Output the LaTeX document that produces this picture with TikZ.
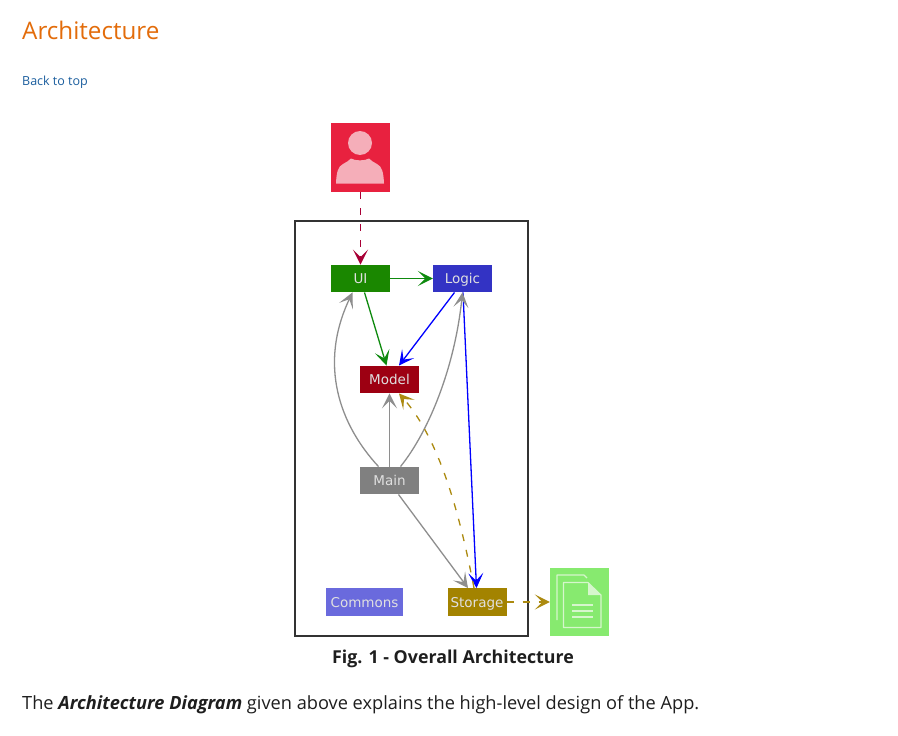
\documentclass[tikz,border=0pt]{standalone}
\usepackage{fontspec}
\setmainfont{Open Sans}
\newfontfamily\diagfont{DejaVu Sans}
\usetikzlibrary{arrows.meta,calc}
\definecolor{titleorange}{HTML}{E36C0A}
\definecolor{linkblue}{HTML}{1B5E9E}
\definecolor{bodytext}{HTML}{1E1E1E}
\definecolor{usered}{HTML}{E8213F}
\definecolor{userpale}{HTML}{F5AEB9}
\definecolor{userarrow}{HTML}{A80036}
\definecolor{uigreen}{HTML}{1A8700}
\definecolor{arrowgreen}{HTML}{0E8A0E}
\definecolor{logicblue}{HTML}{3333C4}
\definecolor{modelred}{HTML}{9D0012}
\definecolor{maingray}{HTML}{808080}
\definecolor{linegray}{HTML}{8E8E8E}
\definecolor{commonsblue}{HTML}{6A6ADD}
\definecolor{storagegold}{HTML}{A38300}
\definecolor{linegold}{HTML}{AC8A10}
\definecolor{docgreen}{HTML}{87EA6F}
\definecolor{docpale}{HTML}{D6F6CC}
\tikzset{
  x=1pt,y=-1pt,
  comp/.style={minimum width=59pt,minimum height=27.5pt,inner sep=0pt,text=white!88!black,font=\diagfont\fontsize{13.5}{15}\selectfont,text height=10pt,text depth=0pt,anchor=center},
  conn/.style={line width=1.3pt,-{Stealth[length=15pt,width=15pt,inset=7.5pt]}},
  dash style/.style={dash pattern=on 7pt off 9pt},
  page text/.style={anchor=base west,inner sep=0pt},
  docline/.style={draw=docpale,line width=1.1pt}
}
\begin{document}
\begin{tikzpicture}
\useasboundingbox (0,0) rectangle (898,736);
\fill[white] (0,0) rectangle (898,736);
% page text
\node[page text,text=titleorange,font=\fontsize{24.2}{28}\selectfont] (title) at (22,39) {Architecture};
\node[page text,text=linkblue,font=\fontsize{12.5}{16}\selectfont] (back) at (22,85) {Back to top};
\node[anchor=base,inner sep=0pt,text=bodytext,font=\bfseries\fontsize{17.8}{20}\selectfont] (caption) at (453,663) {Fig. 1 - Overall Architecture};
\node[page text,text=bodytext,font=\fontsize{18.2}{22}\selectfont] (body) at (22,709) {The \textbf{\textit{Architecture Diagram}} given above explains the high-level design of the App.};
% frame
\node[draw=black!80,line width=2pt,minimum width=233pt,minimum height=415pt,inner sep=0pt] (frame) at (411.5,428.5) {};
% user icon
\node[fill=usered,minimum width=59pt,minimum height=69pt,inner sep=0pt] (user) at (360.5,157.5) {};
\fill[userpale] (360,143) circle (12pt);
\fill[userpale] (336,183.5) .. controls (336.5,172) and (338,166.5) .. (343,164) .. controls (346,162) and (349,161) .. (351,158.5) .. controls (355,161) and (365,161) .. (369,158.5) .. controls (371,161) and (374,162) .. (377,164) .. controls (382,166.5) and (383.5,172) .. (384,183.5) -- cycle;
% components
\node[comp,fill=uigreen] (ui) at (360.5,278.5) {UI};
\node[comp,fill=logicblue] (logic) at (462.5,278.5) {Logic};
\node[comp,fill=modelred] (model) at (389.5,379.5) {Model};
\node[comp,fill=maingray] (main) at (389.5,480.5) {Main};
\node[comp,fill=commonsblue,minimum width=77pt] (commons) at (364.5,602) {Commons};
\node[comp,fill=storagegold] (storage) at (477,602) {Storage};
% document icon
\node[fill=docgreen,minimum width=59pt,minimum height=68pt,inner sep=0pt] (doc) at (579.5,602) {};
\draw[docline,line join=round] (557,620) -- (557,575) -- (584,575) -- (587,578);
\draw[docline,line join=round] (563.5,582.5) -- (588,582.5) -- (601,595) -- (601,627.5) -- (563.5,627.5) -- cycle;
\fill[docpale] (588,582.5) -- (601,595) -- (588,595) -- cycle;
\draw[docline] (572,605) -- (593,605) (572,611) -- (593,611) (572,617) -- (593,617);
% connectors
\draw[conn,userarrow,dash style] (user.south) -- (ui.north);
\draw[conn,arrowgreen] (ui.east) -- (logic.west);
\draw[conn,arrowgreen] ([xshift=4pt]ui.south) -- ([xshift=-3pt]model.north);
\draw[conn,blue] ([xshift=-8pt]logic.south) -- ([xshift=9.5pt]model.north);
\draw[conn,blue] ([xshift=0.5pt]logic.south) -- ([xshift=-0.5pt]storage.north);
\draw[conn,linegray] ([xshift=-11pt]main.north) .. controls (340,425) and (318,365) .. ([xshift=-8pt]ui.south);
\draw[conn,linegray] ([xshift=11pt]main.north) .. controls (430,430) and (455,365) .. ([xshift=0pt]logic.south);
\draw[conn,linegray] (main.north) -- (model.south);
\draw[conn,linegray] ([xshift=9pt]main.south) -- ([xshift=-9pt]storage.north);
\draw[conn,linegold,dash style] ([xshift=-3pt]storage.north) .. controls (460,515) and (440,440) .. ([xshift=9.5pt]model.south);
\draw[conn,linegold,dash style] (storage.east) -- (doc.west);
\end{tikzpicture}
\end{document}
